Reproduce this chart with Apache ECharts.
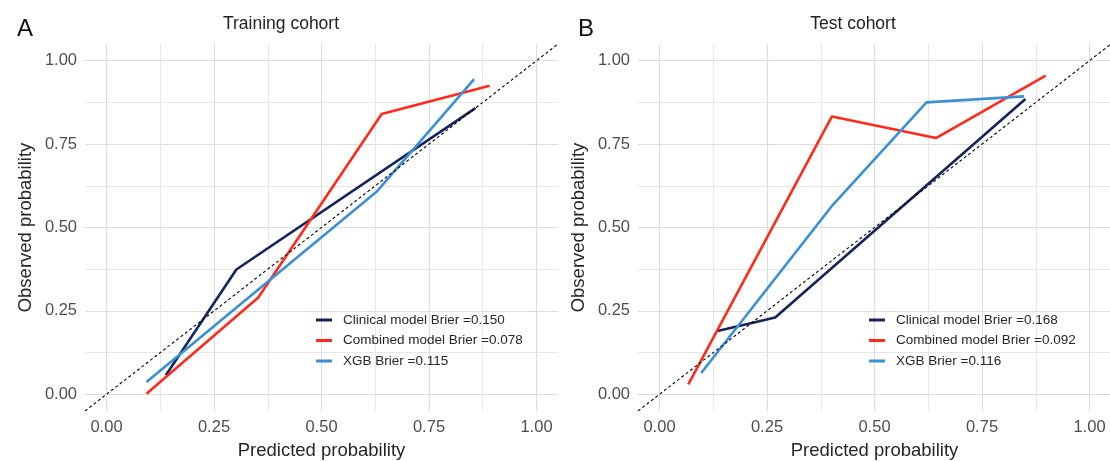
<!DOCTYPE html>
<html lang="en">
<head>
    <meta charset="UTF-8">
    <title>Calibration curves</title>
    <script src="https://cdn.jsdelivr.net/npm/echarts@6/dist/echarts.min.js"></script>
    <style>
        html, body { margin: 0; padding: 0; background: #ffffff; }
        #container { width: 1110px; height: 461px; }
    </style>
</head>
<body>
<div id="container"></div>
<script>
    // tick labels / grid positions
    const majorTicks = [0, 0.25, 0.5, 0.75, 1];
    const minorTicks = [-0.125, 0.125, 0.375, 0.625, 0.875, 1.125];
    const diagonal = [-0.05, 1.05];

    // panel A - training cohort
    const trainNames = ['Clinical model Brier =0.150', 'Combined model Brier =0.078', 'XGB Brier =0.115'];
    const trainClinicalX = [0.138, 0.302, 0.858];
    const trainClinicalY = [0.057, 0.374, 0.858];
    const trainCombinedX = [0.093, 0.353, 0.640, 0.891];
    const trainCombinedY = [0.002, 0.290, 0.840, 0.925];
    const trainXgbX = [0.093, 0.628, 0.855];
    const trainXgbY = [0.037, 0.607, 0.945];

    // panel B - test cohort
    const testNames = ['Clinical model Brier =0.168', 'Combined model Brier =0.092', 'XGB Brier =0.116'];
    const testClinicalX = [0.135, 0.269, 0.851];
    const testClinicalY = [0.190, 0.230, 0.885];
    const testCombinedX = [0.067, 0.401, 0.643, 0.898];
    const testCombinedY = [0.030, 0.833, 0.768, 0.955];
    const testXgbX = [0.097, 0.400, 0.621, 0.848];
    const testXgbY = [0.064, 0.563, 0.875, 0.893];

    const colors = ['#15245a', '#ff2a1c', '#3b90d4'];
    const font = 'Liberation Sans, Arial, Helvetica, sans-serif';

    function pairs(xs, ys) {
        return xs.map((x, i) => [x, ys[i]]);
    }

    function makeAxes(gridIndex, dim) {
        const major = {
            type: 'value', gridIndex: gridIndex, min: -0.05, max: 1.05,
            axisLine: {show: false},
            axisTick: {show: false, customValues: majorTicks},
            axisLabel: {
                customValues: majorTicks, fontSize: 16.5, color: '#4d4d4d', fontFamily: font,
                margin: 8,
                formatter: v => v.toFixed(2)
            },
            splitLine: {show: true, lineStyle: {color: '#dcdcdc', width: 1.1}},
            name: dim === 'x' ? 'Predicted probability' : 'Observed probability',
            nameLocation: 'middle',
            nameGap: dim === 'x' ? 30 : 50,
            nameTextStyle: {fontSize: 18.5, color: '#262626', fontFamily: font}
        };
        const minor = {
            type: 'value', gridIndex: gridIndex, min: -0.05, max: 1.05,
            position: dim === 'x' ? 'bottom' : 'left',
            axisLine: {show: false},
            axisTick: {show: false, customValues: minorTicks},
            axisLabel: {show: false},
            splitLine: {show: true, lineStyle: {color: '#e4e4e4', width: 0.9}}
        };
        return [major, minor];
    }

    function panelSeries(names, data, xIdx, yIdx) {
        const list = data.map((d, i) => ({
            name: names[i], type: 'line', xAxisIndex: xIdx, yAxisIndex: yIdx,
            data: d, showSymbol: false, symbol: 'none', silent: true,
            lineStyle: {color: colors[i], width: 2.6}, itemStyle: {color: colors[i]},
            z: 3 + i
        }));
        list.push({
            name: 'ref' + xIdx, type: 'line', xAxisIndex: xIdx, yAxisIndex: yIdx,
            data: [[diagonal[0], diagonal[0]], [diagonal[1], diagonal[1]]],
            showSymbol: false, symbol: 'none', silent: true,
            lineStyle: {color: '#000000', width: 1.1, type: [3, 2.5]}, z: 10
        });
        return list;
    }

    function makeLegend(names, left) {
        return {
            data: names, orient: 'vertical', left: left, top: 313, padding: 0,
            icon: 'rect', itemWidth: 16, itemHeight: 3, itemGap: 6.5,
            selectedMode: false,
            textStyle: {fontSize: 13.5, color: '#262626', fontFamily: font, padding: [0, 0, 0, 6]}
        };
    }

    const xA = makeAxes(0, 'x'), yA = makeAxes(0, 'y');
    const xB = makeAxes(1, 'x'), yB = makeAxes(1, 'y');

    const dom = document.getElementById('container');
    const myChart = echarts.init(dom, null, {renderer: 'canvas'});

    const option = {
        backgroundColor: '#ffffff',
        animation: false,
        title: [
            {text: 'A', left: 12, top: 12, textStyle: {fontSize: 24, fontWeight: 'normal', color: '#111', fontFamily: font}},
            {text: 'Training cohort', left: 276, top: 10, textAlign: 'center', textStyle: {fontSize: 17.5, fontWeight: 'normal', color: '#222', fontFamily: font}},
            {text: 'B', left: 573, top: 12, textStyle: {fontSize: 24, fontWeight: 'normal', color: '#111', fontFamily: font}},
            {text: 'Test cohort', left: 848, top: 10, textAlign: 'center', textStyle: {fontSize: 17.5, fontWeight: 'normal', color: '#222', fontFamily: font}}
        ],
        legend: [makeLegend(trainNames, 316), makeLegend(testNames, 869)],
        grid: [
            {left: 85, top: 44, width: 473, height: 367, containLabel: false, outerBoundsMode: 'none'},
            {left: 638, top: 44, width: 473, height: 367, containLabel: false, outerBoundsMode: 'none'}
        ],
        xAxis: [xA[0], xA[1], xB[0], xB[1]],
        yAxis: [yA[0], yA[1], yB[0], yB[1]],
        series: [].concat(
            panelSeries(trainNames, [
                pairs(trainClinicalX, trainClinicalY),
                pairs(trainCombinedX, trainCombinedY),
                pairs(trainXgbX, trainXgbY)
            ], 0, 0),
            panelSeries(testNames, [
                pairs(testClinicalX, testClinicalY),
                pairs(testCombinedX, testCombinedY),
                pairs(testXgbX, testXgbY)
            ], 2, 2)
        )
    };
    myChart.setOption(option);
    window.addEventListener('resize', myChart.resize);
</script>
</body>
</html>
